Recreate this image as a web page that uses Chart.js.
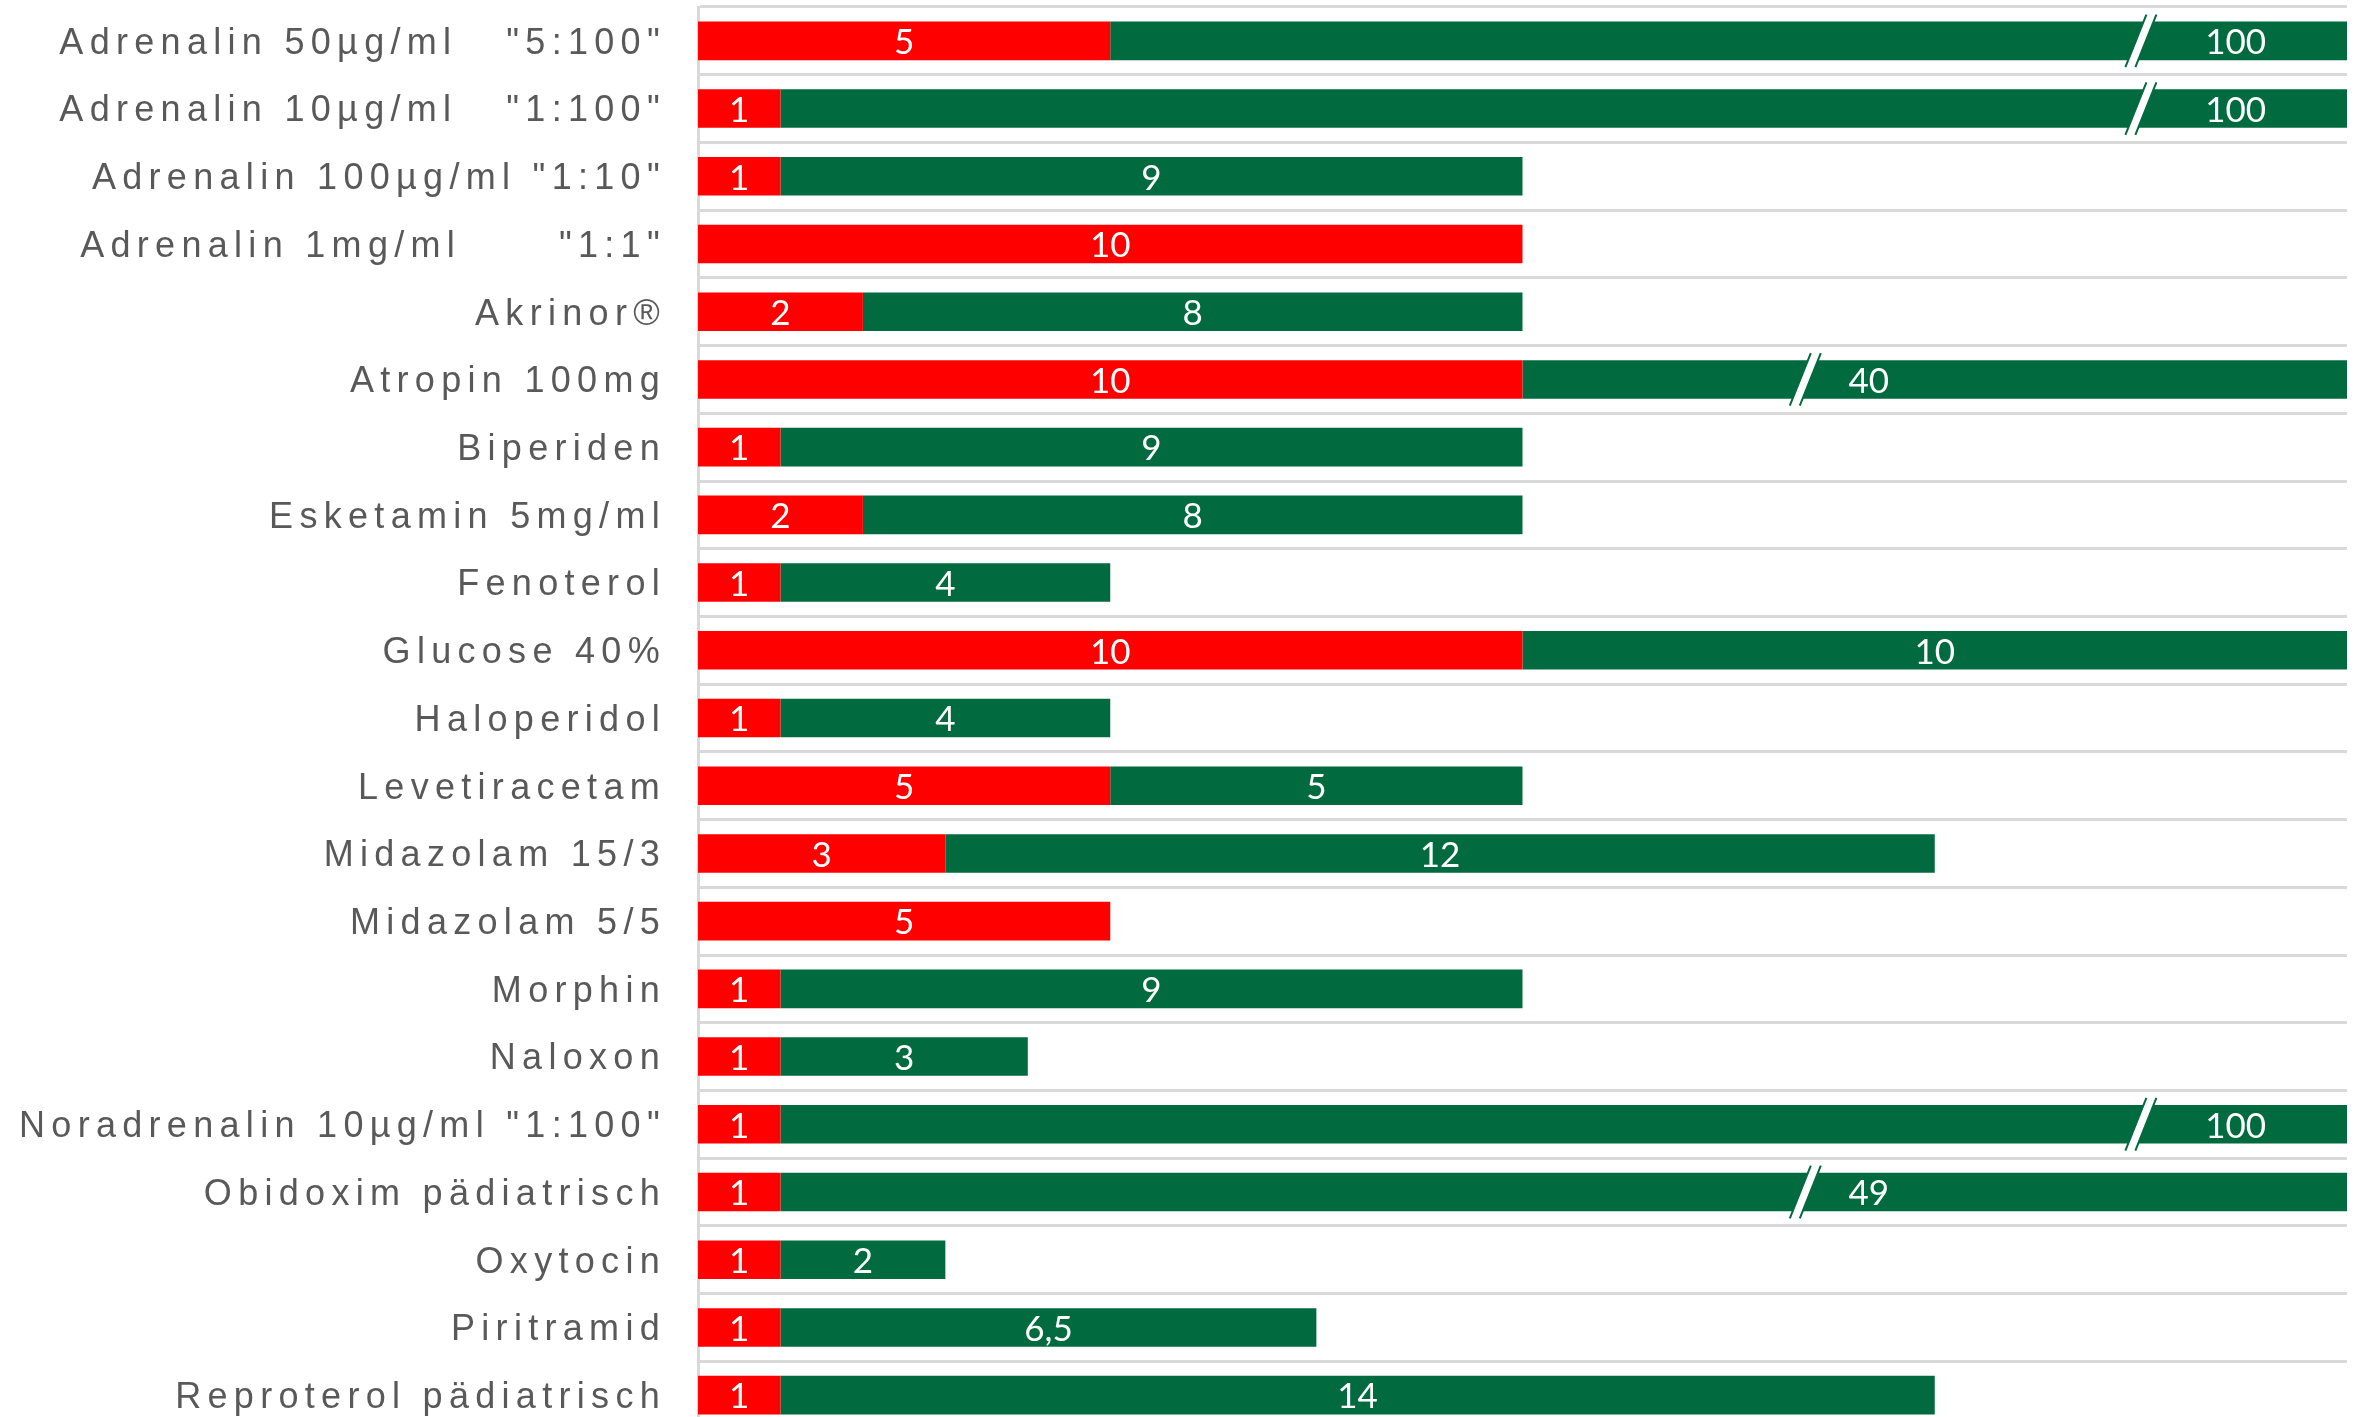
<!DOCTYPE html>
<html>
<head>
<meta charset="utf-8">
<script src="https://cdn.jsdelivr.net/npm/chart.js@4"></script>
<style>
  html, body { margin: 0; padding: 0; background: #fff; overflow: hidden; }
  #frame { width: 2368px; height: 1417px; overflow: hidden; position: relative; }
  #wrap { width: 2368px; height: 1432px; position: relative; }
</style>
</head>
<body>
<div id="frame"><div id="wrap"><canvas id="barChart"></canvas></div></div>
<script>
const categories = [
  'Adrenalin 50µg/ml   "5:100"',
  'Adrenalin 10µg/ml   "1:100"',
  'Adrenalin 100µg/ml "1:10"',
  'Adrenalin 1mg/ml      "1:1"',
  'Akrinor®',
  'Atropin 100mg',
  'Biperiden',
  'Esketamin 5mg/ml',
  'Fenoterol',
  'Glucose 40%',
  'Haloperidol',
  'Levetiracetam',
  'Midazolam 15/3',
  'Midazolam 5/5',
  'Morphin',
  'Naloxon',
  'Noradrenalin 10µg/ml "1:100"',
  'Obidoxim pädiatrisch',
  'Oxytocin',
  'Piritramid',
  'Reproterol pädiatrisch',
];
const drugValues = [5, 1, 1, 10, 2, 10, 1, 2, 1, 10, 1, 5, 3, 5, 1, 1, 1, 1, 1, 1, 1];
const diluentValues = [100, 100, 9, 0, 8, 40, 9, 8, 4, 10, 4, 5, 12, 0, 9, 3, 100, 49, 2, 6.5, 14];

const axisMax = 20;
// bars that run past the axis: where the break sits and where the label goes (value units)
const breaks = {
  0: { at: 17.5, label: 18.65 },
  1: { at: 17.5, label: 18.65 },
  5: { at: 13.43, label: 14.2 },
  16: { at: 17.5, label: 18.65 },
  17: { at: 13.43, label: 14.2 },
};

const RED = '#ff0000';
const GREEN = '#016b3f';

// green part gets cut at the axis end when it is too long
const diluentPlot = diluentValues.map((v, i) => Math.min(v, axisMax - drugValues[i]));

const fmt = v => String(v).replace('.', ',');

const spacing = {
  id: 'spacing',
  beforeDraw(chart) { chart.ctx.letterSpacing = '6.3px'; },
  beforeDatasetsDraw(chart) { chart.ctx.letterSpacing = '0px'; }
};

const barLabels = {
  id: 'barLabels',
  afterDatasetsDraw(chart) {
    const ctx = chart.ctx;
    const xs = chart.scales.x;
    const red = chart.getDatasetMeta(0).data;
    const green = chart.getDatasetMeta(1).data;
    ctx.save();
    ctx.letterSpacing = '0px';

    // break marks
    Object.keys(breaks).forEach(k => {
      const bar = green[k];
      const bx = xs.getPixelForValue(breaks[k].at);
      const top = bar.y - bar.height / 2 - 7;
      const bot = bar.y + bar.height / 2 + 7;
      const dx = 10.5, w = 5;
      ctx.beginPath();
      ctx.moveTo(bx - w + dx, top);
      ctx.lineTo(bx + w + dx, top);
      ctx.lineTo(bx + w - dx, bot);
      ctx.lineTo(bx - w - dx, bot);
      ctx.closePath();
      ctx.fillStyle = '#fff';
      ctx.fill();
      ctx.strokeStyle = GREEN;
      ctx.lineWidth = 2;
      ctx.beginPath();
      ctx.moveTo(bx - w + dx, top); ctx.lineTo(bx - w - dx, bot);
      ctx.moveTo(bx + w + dx, top); ctx.lineTo(bx + w - dx, bot);
      ctx.stroke();
    });

    ctx.font = '35px Lato';
    ctx.fillStyle = '#fff';
    ctx.textAlign = 'center';
    ctx.textBaseline = 'middle';
    categories.forEach((c, i) => {
      const r = red[i];
      if (drugValues[i]) ctx.fillText(fmt(drugValues[i]), (r.base + r.x) / 2, r.y + 2);
      const g = green[i];
      if (!diluentValues[i]) return;
      const x = breaks[i] ? xs.getPixelForValue(breaks[i].label) : (g.base + g.x) / 2;
      ctx.fillText(fmt(diluentValues[i]), x, g.y + 2);
    });
    ctx.restore();
  }
};

new Chart(document.getElementById('barChart').getContext('2d'), {
  type: 'bar',
  data: {
    labels: categories,
    datasets: [
      { label: 'Wirkstoff', data: drugValues, backgroundColor: RED },
      { label: 'Verdünnung', data: diluentPlot, backgroundColor: GREEN },
    ],
  },
  options: {
    indexAxis: 'y',
    responsive: true,
    maintainAspectRatio: false,
    animation: false,
    datasets: { bar: { barPercentage: 0.57, categoryPercentage: 1 } },
    layout: { padding: { top: 7, right: 21, bottom: 3, left: 0 } },
    plugins: { legend: { display: false }, tooltip: { enabled: false } },
    scales: {
      x: { stacked: true, display: false, min: 0, max: axisMax },
      y: {
        stacked: true,
        afterFit(scale) {
          scale.width = 698;
          scale.paddingTop = 0;
          scale.paddingBottom = 0;
        },
        grid: { color: '#d9d9d9', lineWidth: 3, drawTicks: false, offset: true },
        border: { display: true, color: '#d9d9d9', width: 3 },
        ticks: {
          autoSkip: false,
          padding: 32,
          labelOffset: 3,
          color: '#595959',
          font: { family: 'Liberation Sans', size: 36 },
        },
      },
    },
  },
  plugins: [spacing, barLabels],
});
</script>
</body>
</html>
